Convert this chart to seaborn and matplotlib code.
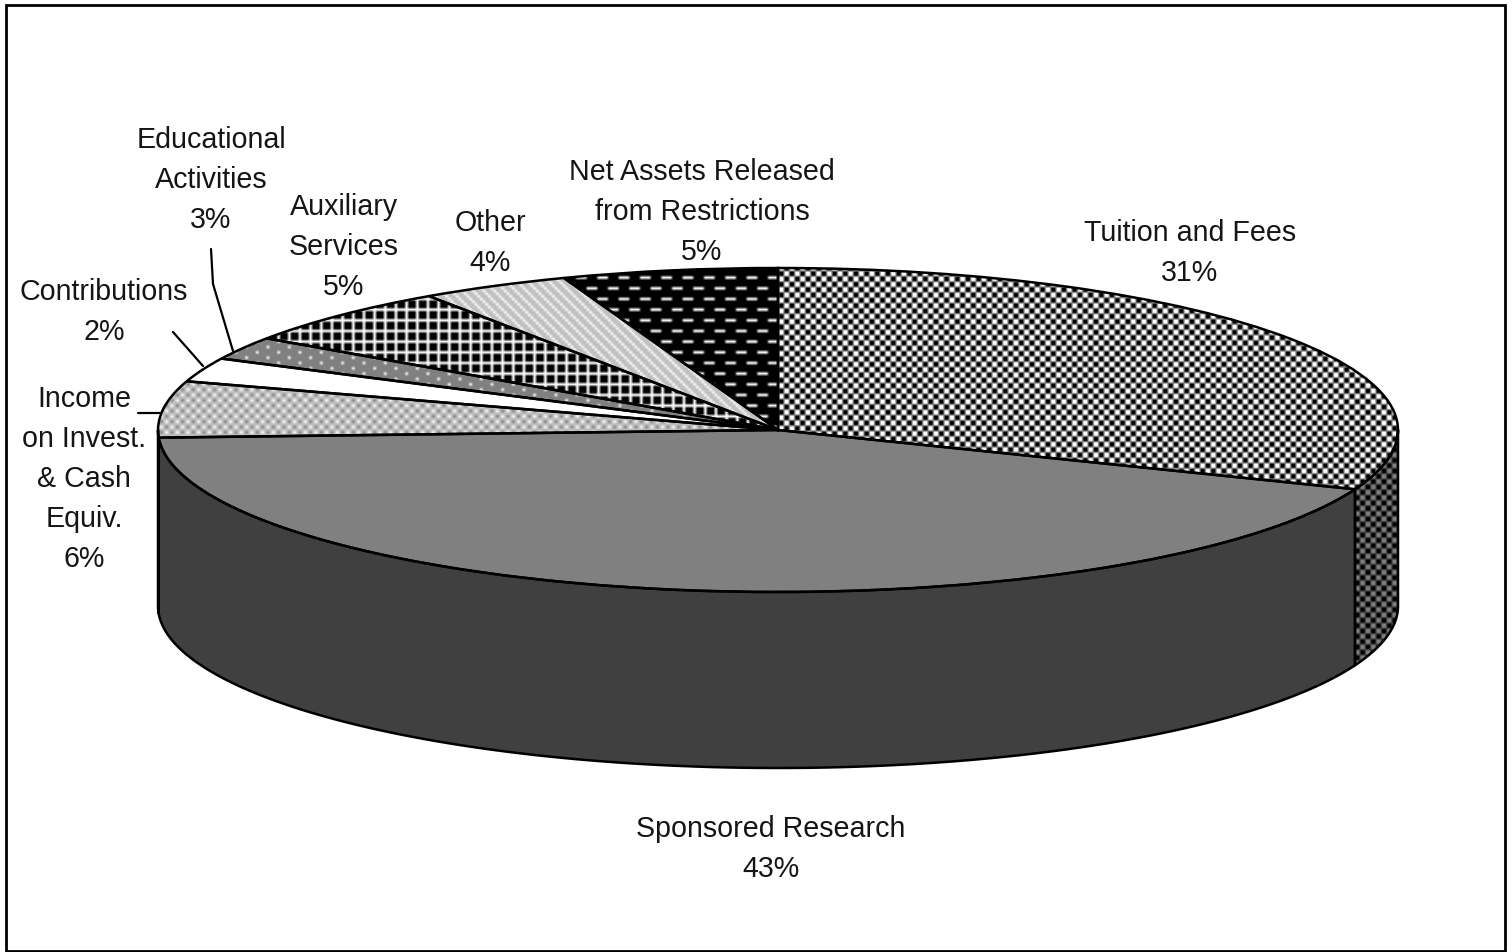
import matplotlib
matplotlib.use('Agg')
import matplotlib.pyplot as plt
import numpy as np
import seaborn as sns
from matplotlib.patches import Polygon, Rectangle

categories = ['Tuition and Fees', 'Sponsored Research', 'Income on Invest. & Cash Equiv.', 'Contributions',
              'Educational Activities', 'Auxiliary Services', 'Other', 'Net Assets Released from Restrictions']
shares = [30.9, 43.2, 5.6, 2.4, 2.3, 5.9, 3.9, 5.6]
percent_labels = ['31%', '43%', '6%', '2%', '3%', '5%', '4%', '5%']
label_lines = [['Tuition and Fees'], ['Sponsored Research'], ['Income', 'on Invest.', '& Cash', 'Equiv.'],
               ['Contributions'], ['Educational', 'Activities'], ['Auxiliary', 'Services'], ['Other'],
               ['Net Assets Released', 'from Restrictions']]

W, H = 1512, 953
CX, CY, RX, RY, DEPTH = 778, 431, 620, 162, 176
SRC_PIXEL = 8 / 3  # the original bitmap was about 567 px wide

# fill patterns in bitmap pixels
checker = np.array([[255, 255, 0, 0], [255, 255, 0, 0], [0, 0, 255, 255], [0, 0, 255, 255]])
solid_gray = np.array([[128]])
income_tile = np.array([[255, 190, 128, 190], [190, 190, 190, 190], [128, 190, 255, 190], [190, 190, 190, 190]])
solid_white = np.array([[255]])
dots = np.full((4, 8), 128)
dots[0, 0] = 255
dots[2, 4] = 255
grid = np.zeros((4, 4), dtype=int)
grid[0, :] = 255
grid[:, 0] = 255
stripes = np.full((4, 4), 192)
stripes[np.arange(4), np.arange(4)] = 255
dashes = np.zeros((8, 8), dtype=int)
dashes[0, 0:4] = 255
dashes[4, 4:8] = 255
tiles = [checker, solid_gray, income_tile, solid_white, dots, grid, stripes, dashes]

# centre of each label block in pixels
label_pos = [(1190, 253), (771, 849), (84, 479), (104, 312), (211, 180), (344, 247), (490, 243), (702, 212)]
leaders = [([138, 160], [414, 414]), ([173, 203], [333, 367]), ([211, 213, 233], [250, 285, 352])]

sns.set_theme(style='white')
plt.rcParams['font.family'] = ['Liberation Sans', 'DejaVu Sans']

fig = plt.figure(figsize=(W / 100, H / 100), dpi=100, facecolor='white')
ax = fig.add_axes([0, 0, 1, 1])

xlim = (-CX / RX, (W - CX) / RX)
ylim = ((CY - H) / RY, CY / RY)


def texture(tile, clip):
    rows = int(H / SRC_PIXEL) + 1
    cols = int(W / SRC_PIXEL) + 1
    big = np.tile(tile, (rows // tile.shape[0] + 1, cols // tile.shape[1] + 1))[:rows, :cols]
    img = ax.imshow(big, extent=(xlim[0], xlim[0] + cols * SRC_PIXEL / RX, ylim[1] - rows * SRC_PIXEL / RY, ylim[1]),
                    cmap='gray', vmin=0, vmax=255, aspect='auto', interpolation='bilinear', zorder=1)
    img.set_clip_path(clip)


# top of the pie
wedges, _ = ax.pie(shares, startangle=90, counterclock=False, radius=1, frame=False,
                   wedgeprops=dict(facecolor='none', edgecolor='black', linewidth=1.8, zorder=3))
for wedge, tile in zip(wedges, tiles):
    texture(tile, wedge)

# side wall, half as bright as the top
ends = 90 - np.cumsum(shares) / np.sum(shares) * 360
starts = np.concatenate([[90], ends[:-1]])
for a0, a1, tile in zip(starts, ends, tiles):
    a0, a1 = min(a0, 0), max(a1, -180)
    if a0 <= a1:
        continue
    t = np.radians(np.linspace(a0, a1, 120))
    top = np.column_stack([np.cos(t), np.sin(t)])
    bottom = top[::-1] - [0, DEPTH / RY]
    side = Polygon(np.vstack([top, bottom]), closed=True, facecolor='none', edgecolor='black', linewidth=1.8,
                   zorder=3, transform=ax.transData)
    ax.add_patch(side)
    texture(tile // 2, side)

ax.set_aspect('auto')
ax.set_xlim(*xlim)
ax.set_ylim(*ylim)
ax.axis('off')

# overlay in pixels for labels, leaders and the border
ov = fig.add_axes([0, 0, 1, 1], facecolor='none')
ov.set_xlim(0, W)
ov.set_ylim(H, 0)
ov.axis('off')
ov.add_patch(Rectangle((6, 5.5), 1499, 946.5, fill=False, edgecolor='black', linewidth=2))
for xs, ys in leaders:
    ov.plot(xs, ys, color='black', linewidth=1.6)
for lines, pct, (x, y) in zip(label_lines, percent_labels, label_pos):
    rows = lines + [pct]
    for i, row in enumerate(rows):
        ov.text(x, y + (i - (len(rows) - 1) / 2) * 40, row, ha='center', va='center', fontsize=20.6, color='#151515')

fig.savefig('out.png', dpi=100)
